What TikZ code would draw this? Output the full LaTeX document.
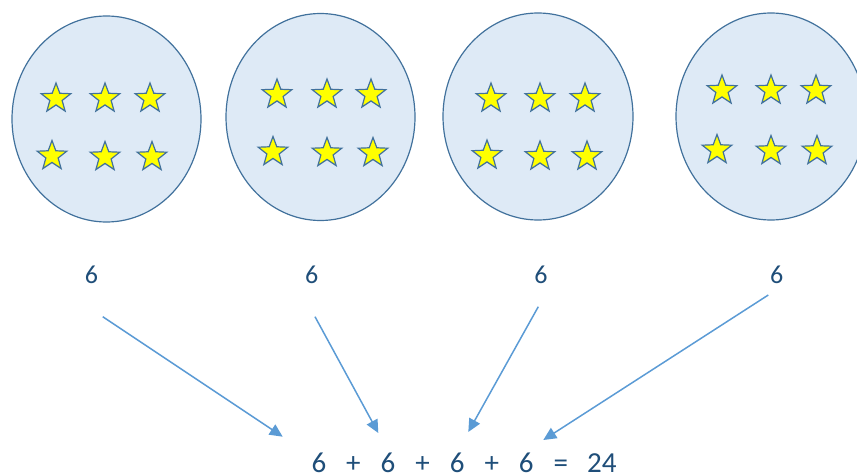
\documentclass[tikz,border=0pt]{standalone}
\usepackage{fontspec}
\setmainfont{Carlito}
\usetikzlibrary{shapes.geometric,arrows.meta}
\definecolor{circfill}{HTML}{DEEAF6}
\definecolor{circline}{HTML}{41719C}
\definecolor{starfill}{HTML}{FFFF00}
\definecolor{arrowcol}{HTML}{5B9BD5}
\definecolor{txtcol}{HTML}{1F4E79}
\tikzset{
  bag/.style={ellipse,draw=circline,fill=circfill,line width=1.2pt,inner sep=0pt},
  stardot/.style={star,star points=5,star point ratio=2.4,draw=circline,fill=starfill,line width=1.2pt,minimum size=31pt,inner sep=0pt},
  numlbl/.style={text=txtcol,font=\fontsize{26}{30}\selectfont,inner sep=0pt},
  arr/.style={draw=arrowcol,line width=1.5pt,-{Triangle[length=13pt,width=12pt]}}
}
\begin{document}
\begin{tikzpicture}[x=1pt,y=-1pt]
\useasboundingbox (0,0) rectangle (857,476);
% bags
\node[bag,minimum width=189pt,minimum height=206pt] (c1) at (106.5,119) {};
\node[bag,minimum width=189pt,minimum height=207pt] (c2) at (320.5,117) {};
\node[bag,minimum width=190pt,minimum height=207pt] (c3) at (538,116.5) {};
\node[bag,minimum width=190pt,minimum height=207pt] (c4) at (771,116.5) {};
% stars bag 1
\node[stardot] (s11) at (56,98.5) {};
\node[stardot] (s12) at (105,98.5) {};
\node[stardot] (s13) at (150,98.5) {};
\node[stardot] (s14) at (52,156) {};
\node[stardot] (s15) at (105,157) {};
\node[stardot] (s16) at (152,157) {};
% stars bag 2
\node[stardot] (s21) at (277,94.5) {};
\node[stardot] (s22) at (327,94.5) {};
\node[stardot] (s23) at (371,94.5) {};
\node[stardot] (s24) at (273,152) {};
\node[stardot] (s25) at (327,153) {};
\node[stardot] (s26) at (373,153) {};
% stars bag 3
\node[stardot] (s31) at (491,98.5) {};
\node[stardot] (s32) at (540,98.5) {};
\node[stardot] (s33) at (585,98.5) {};
\node[stardot] (s34) at (487,155.5) {};
\node[stardot] (s35) at (540,156.5) {};
\node[stardot] (s36) at (587,156.5) {};
% stars bag 4
\node[stardot] (s41) at (722,90.5) {};
\node[stardot] (s42) at (771,90.5) {};
\node[stardot] (s43) at (816,90.5) {};
\node[stardot] (s44) at (717,150) {};
\node[stardot] (s45) at (771,151) {};
\node[stardot] (s46) at (817,151) {};
% labels
\node[numlbl,anchor=base] (l1) at (91.5,283) {6};
\node[numlbl,anchor=base] (l2) at (311.7,283) {6};
\node[numlbl,anchor=base] (l3) at (541,283) {6};
\node[numlbl,anchor=base] (l4) at (776.7,283) {6};
% equation
\node[numlbl,anchor=base,font=\fontsize{29}{34}\selectfont] (eq) at (464,472.5) {6\hspace{20pt}+\hspace{20pt}6\hspace{20pt}+\hspace{20pt}6\hspace{20pt}+\hspace{20pt}6\hspace{20pt}=\hspace{19pt}24};
% arrow ends
\coordinate (a1s) at (102.7,316.7);
\coordinate (a1e) at (282.7,436.7);
\coordinate (a2s) at (315,316.7);
\coordinate (a2e) at (378.3,433);
\coordinate (a3s) at (538.3,306.7);
\coordinate (a3e) at (468.3,432);
\coordinate (a4s) at (768.3,295);
\coordinate (a4e) at (543.3,440);
\draw[arr] (a1s) -- (a1e);
\draw[arr] (a2s) -- (a2e);
\draw[arr] (a3s) -- (a3e);
\draw[arr] (a4s) -- (a4e);
\end{tikzpicture}
\end{document}
